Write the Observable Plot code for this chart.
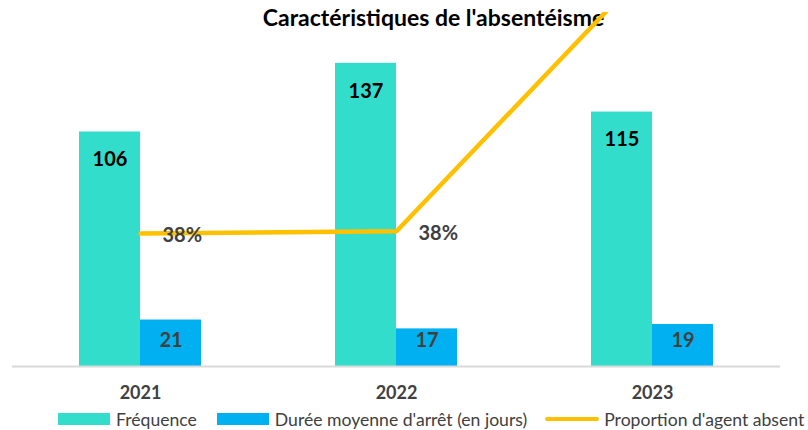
<!DOCTYPE html>
<html>
<head>
<meta charset="utf-8">
<script src="https://cdn.jsdelivr.net/npm/d3@7"></script>
<script src="https://cdn.jsdelivr.net/npm/@observablehq/plot@0.6"></script>
<style>
  html, body { margin: 0; padding: 0; background: #fff; }
  #chart { width: 808px; height: 430px; position: relative; overflow: hidden; }
  .legend { display: flex; align-items: center; font-family: Lato, "Open Sans", sans-serif; font-size: 17.6px; color: #404040; margin-left: 58px; margin-top: 6px; height: 18px; white-space: nowrap; }
  .legend .item { display: flex; align-items: center; margin-right: 20px; }
  .legend .item:nth-child(2) { margin-right: 18px; }
  .legend .sw { width: 52px; height: 12px; margin-right: 6px; }
  .legend .ln { width: 54px; height: 4px; border-radius: 2px; margin-right: 5px; }
</style>
</head>
<body>
<div id="chart"></div>
<script>
const title = "Caractéristiques de l'absentéisme";
const years = ["2021", "2022", "2023"];
const frequence = [106, 137, 115];
const duree = [21, 17, 19];
const proportion = [0.376, 0.382, 1.14];
const seriesNames = ["Fréquence", "Durée moyenne d'arrêt (en jours)", "Proportion d'agent absent"];
const colors = ["#33DDCB", "#00B0F0", "#FFC000"];

const rows = years.map((year, i) => ({year, freq: frequence[i], duree: duree[i], prop: proportion[i]}));

// secondary axis (0–100 %) mapped onto the primary axis units (0–160)
const y2 = d3.scaleLinear().domain([0, 1]).range([0, 160]);
const pct = d3.format(".0%");
const visibleProp = rows.filter(d => y2(d.prop) <= 160);

const chart = Plot.plot({
  width: 808,
  height: 404,
  marginTop: 12,
  marginBottom: 38,
  marginLeft: 12,
  marginRight: 28,
  x: {domain: years, padding: 0, label: null},
  y: {domain: [0, 160], axis: null},
  style: {fontFamily: "Lato, 'Open Sans', sans-serif", background: "#fff", overflow: "visible"},
  marks: [
    Plot.text([title], {frameAnchor: "top", dx: 37, dy: 6.5, fontSize: 23, fontWeight: "bold", fill: "#000", lineAnchor: "middle"}),
    Plot.barY(rows, {x: "year", y: "freq", fill: colors[0], insetLeft: 67, insetRight: 128}),
    Plot.barY(rows, {x: "year", y: "duree", fill: colors[1], insetLeft: 128, insetRight: 67}),
    Plot.ruleY([0], {stroke: "#d9d9d9", strokeWidth: 2}),
    Plot.line(rows, {x: "year", y: d => y2(d.prop), stroke: colors[2], strokeWidth: 4.5, clip: true}),
    Plot.text(rows, {x: "year", y: "freq", text: d => String(d.freq), dx: -30.5, dy: 28, fontSize: 20, fontWeight: "bold", fill: "#000"}),
    Plot.text(rows, {x: "year", y: 0, text: d => String(d.duree), dx: 30.5, dy: -26, fontSize: 20, fontWeight: "bold", fill: "#404040"}),
    Plot.text(visibleProp, {x: "year", y: d => y2(d.prop), text: d => pct(d.prop), textAnchor: "start", dx: 22, dy: 2, fontSize: 20, fontWeight: "bold", fill: "#404040"}),
    Plot.axisX({tickSize: 0, tickPadding: 20, fontSize: 18, fontWeight: "bold", color: "#404040"})
  ]
});

const root = document.getElementById("chart");
root.appendChild(chart);

const legend = document.createElement("div");
legend.className = "legend";
seriesNames.forEach((name, i) => {
  const item = document.createElement("div");
  item.className = "item";
  const sw = document.createElement("span");
  sw.className = i === 2 ? "ln" : "sw";
  sw.style.background = colors[i];
  const label = document.createElement("span");
  label.textContent = name;
  item.appendChild(sw);
  item.appendChild(label);
  legend.appendChild(item);
});
root.appendChild(legend);
</script>
</body>
</html>
